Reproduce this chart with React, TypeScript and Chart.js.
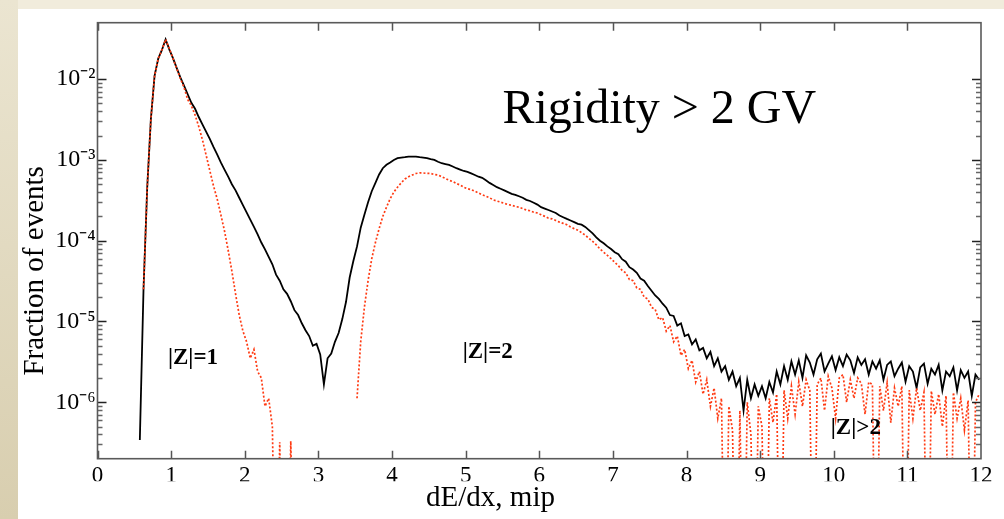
import { useEffect, useRef } from 'react';
import { Chart, registerables } from 'chart.js';

Chart.register(...registerables);

// Histogram bins: centre of first bin and bin width (dE/dx, mip)
const BIN_START = 0.575;
const BIN_WIDTH = 0.05;
const ZERO = 1e-9; // empty bin (falls below the log axis)

// Black curve: all events, one row per unit of dE/dx (20 bins per row)
const allEvents: (number | null)[] = [
  3.4e-7, 2.5e-5, 4.5e-4, 3.2e-3, 1.1e-2, 1.8e-2, 2.3e-2, 3.1e-2, 2.34e-2, 1.82e-2, 1.38e-2, 1.05e-2, 8.3e-3, 6.5e-3, 5.1e-3, 4.3e-3, 3.4e-3, 2.75e-3, 2.24e-3, 1.82e-3,
  1.45e-3, 1.17e-3, 9.3e-4, 7.6e-4, 6.2e-4, 5.0e-4, 4.2e-4, 3.4e-4, 2.75e-4, 2.24e-4, 1.82e-4, 1.48e-4, 1.2e-4, 9.5e-5, 7.8e-5, 6.3e-5, 5.1e-5, 3.8e-5, 3.2e-5, 2.5e-5,
  2.2e-5, 1.78e-5, 1.38e-5, 1.2e-5, 9.5e-6, 7.8e-6, 6.6e-6, 5.0e-6, 5.3e-6, 3.9e-6, 1.66e-6, 3.5e-6, 4.0e-6, 5.6e-6, 7.2e-6, 1.07e-5, 1.74e-5, 3.5e-5, 5.6e-5, 8.5e-5,
  1.45e-4, 2.1e-4, 3.0e-4, 4.1e-4, 5.2e-4, 6.6e-4, 7.9e-4, 8.7e-4, 9.3e-4, 1.0e-3, 1.05e-3, 1.07e-3, 1.08e-3, 1.1e-3, 1.1e-3, 1.1e-3, 1.08e-3, 1.07e-3, 1.05e-3, 1.02e-3,
  1.0e-3, 9.5e-4, 9.1e-4, 8.9e-4, 8.7e-4, 8.3e-4, 7.9e-4, 7.6e-4, 7.3e-4, 7.1e-4, 6.8e-4, 6.5e-4, 6.2e-4, 6.0e-4, 5.6e-4, 5.2e-4, 4.9e-4, 4.6e-4, 4.4e-4, 4.2e-4,
  4.0e-4, 3.8e-4, 3.7e-4, 3.55e-4, 3.4e-4, 3.2e-4, 3.1e-4, 2.95e-4, 2.8e-4, 2.6e-4, 2.5e-4, 2.4e-4, 2.3e-4, 2.2e-4, 2.05e-4, 1.95e-4, 1.86e-4, 1.78e-4, 1.7e-4, 1.62e-4,
  1.58e-4, 1.48e-4, 1.35e-4, 1.23e-4, 1.1e-4, 1.0e-4, 9.3e-5, 8.5e-5, 7.9e-5, 7.2e-5, 6.8e-5, 5.9e-5, 5.5e-5, 4.7e-5, 4.4e-5, 4.0e-5, 3.4e-5, 3.2e-5, 2.75e-5, 2.4e-5,
  2.1e-5, 1.9e-5, 1.66e-5, 1.48e-5, 1.2e-5, 1.17e-5, 8.9e-6, 9.5e-6, 6.6e-6, 6.9e-6, 5.2e-6, 6.0e-6, 4.4e-6, 4.7e-6, 3.5e-6, 4.2e-6, 2.8e-6, 3.5e-6, 2.4e-6, 2.8e-6,
  1.9e-6, 2.4e-6, 1.58e-6, 2.0e-6, 7.9e-7, 1.9e-6, 1.12e-6, 1.66e-6, 1.2e-6, 1.58e-6, 1.12e-6, 1.78e-6, 1.32e-6, 2.4e-6, 1.66e-6, 2.8e-6, 1.9e-6, 3.2e-6, 2.2e-6, 3.3e-6,
  2.0e-6, 3.8e-6, 3.1e-6, 2.2e-6, 3.4e-6, 4.0e-6, 2.4e-6, 3.0e-6, 3.7e-6, 2.5e-6, 3.6e-6, 2.8e-6, 3.9e-6, 3.3e-6, 2.3e-6, 3.6e-6, 2.9e-6, 3.4e-6, 2.2e-6, 3.2e-6,
  2.6e-6, 3.3e-6, 1.9e-6, 2.9e-6, 3.2e-6, 2.1e-6, 2.6e-6, 3.1e-6, 1.8e-6, 2.8e-6, 2.4e-6, 1.5e-6, 2.7e-6, 3.0e-6, 1.7e-6, 2.6e-6, 2.2e-6, 2.9e-6, 1.4e-6, 2.4e-6,
  2.1e-6, 2.7e-6, 1.4e-6, 2.5e-6, 2.0e-6, 2.4e-6, 1.2e-6, 2.2e-6, 1.9e-6,
];

// Red dotted curve: selected events
const selectedEvents: (number | null)[] = [
  null, 2.5e-5, 4.5e-4, 3.2e-3, 1.1e-2, 1.8e-2, 2.3e-2, 3.1e-2, 2.4e-2, 1.8e-2, 1.36e-2, 1.02e-2, 7.9e-3, 5.6e-3, 4.7e-3, 3.6e-3, 2.6e-3, 1.78e-3, 1.15e-3, 7.4e-4,
  4.8e-4, 3.3e-4, 2.1e-4, 1.32e-4, 7.6e-5, 4.2e-5, 2.2e-5, 1.2e-5, 7.6e-6, 5.6e-6, 3.5e-6, 4.5e-6, 2.4e-6, 2.0e-6, 8.9e-7, 1.12e-6, 5.0e-7, ZERO, 3.2e-7, ZERO,
  ZERO, 3.3e-7, ZERO, null, null, null, null, null, null, null, null, null, null, null, null, null, null, null, null, 1.12e-6,
  5.6e-6, 1.5e-5, 3.2e-5, 6.0e-5, 9.5e-5, 1.41e-4, 2.0e-4, 2.6e-4, 3.3e-4, 4.0e-4, 4.6e-4, 5.2e-4, 5.8e-4, 6.2e-4, 6.5e-4, 6.8e-4, 6.9e-4, 6.9e-4, 6.8e-4, 6.8e-4,
  6.6e-4, 6.5e-4, 6.2e-4, 5.9e-4, 5.6e-4, 5.4e-4, 5.1e-4, 4.9e-4, 4.6e-4, 4.4e-4, 4.3e-4, 4.1e-4, 3.9e-4, 3.7e-4, 3.55e-4, 3.4e-4, 3.2e-4, 3.1e-4, 3.0e-4, 2.9e-4,
  2.8e-4, 2.75e-4, 2.65e-4, 2.6e-4, 2.5e-4, 2.4e-4, 2.35e-4, 2.25e-4, 2.2e-4, 2.1e-4, 2.0e-4, 1.9e-4, 1.86e-4, 1.78e-4, 1.7e-4, 1.64e-4, 1.58e-4, 1.48e-4, 1.41e-4, 1.35e-4,
  1.26e-4, 1.17e-4, 1.07e-4, 9.8e-5, 8.9e-5, 7.9e-5, 7.2e-5, 6.6e-5, 6.0e-5, 5.4e-5, 4.9e-5, 4.3e-5, 4.0e-5, 3.3e-5, 3.2e-5, 2.6e-5, 2.5e-5, 2.0e-5, 1.9e-5, 1.5e-5,
  1.41e-5, 1.05e-5, 1.12e-5, 7.6e-6, 8.9e-6, 5.6e-6, 6.6e-6, 3.8e-6, 4.5e-6, 2.6e-6, 3.3e-6, 1.78e-6, 2.4e-6, 1.26e-6, 1.9e-6, 8.9e-7, 1.5e-6, 6.3e-7, 1.12e-6, ZERO,
  8.9e-7, 4.5e-7, ZERO, 7.9e-7, ZERO, 1.0e-6, 4.0e-7, ZERO, 8.9e-7, 5.0e-7, ZERO, 1.12e-6, 5.6e-7, 1.26e-6, ZERO, 1.41e-6, 6.3e-7, 1.58e-6, 7.1e-7, 1.78e-6,
  8.9e-7, 1.9e-6, 1.4e-6, ZERO, 1.66e-6, 2.0e-6, 7.9e-7, 2.1e-6, 1.5e-6, 6.3e-7, 2.0e-6, 2.2e-6, 1.0e-6, 1.9e-6, 1.12e-6, 2.0e-6, 1.7e-6, 7.1e-7, 1.78e-6, 1.66e-6,
  ZERO, 1.58e-6, 7.9e-7, 1.74e-6, 5.6e-7, 1.5e-6, 8.9e-7, 1.58e-6, ZERO, 1.41e-6, 6.3e-7, 1.5e-6, 7.9e-7, 1.32e-6, ZERO, 1.38e-6, 7.1e-7, 1.26e-6, 5.0e-7, 1.2e-6,
  ZERO, 1.32e-6, 6.3e-7, 1.12e-6, 4.5e-7, 1.05e-6, ZERO, 1.0e-6, 1.26e-6,
];

const X_MIN = 0;
const X_MAX = 12;
const Y_MIN = 2e-7;
const Y_MAX = 5e-2;
const Y_MAJOR_VALUES = [1e-6, 1e-5, 1e-4, 1e-3, 1e-2];
const Y_TICK_LABELS = ['10⁻⁶', '10⁻⁵', '10⁻⁴', '10⁻³', '10⁻²'];
const Y_DECADES = [-7, -6, -5, -4, -3];
const MANTISSAS = [1, 2, 3, 4, 5, 6, 7, 8, 9];

const NOTES = [
  { text: 'Rigidity > 2 GV', x: 5.5, y: 2.85e-3, font: 'normal 48px "Liberation Serif", serif' },
  { text: '|Z|=1', x: 0.957, y: 3.0e-6, font: 'bold 23px "Liberation Serif", serif' },
  { text: '|Z|=2', x: 4.96, y: 3.5e-6, font: 'bold 23px "Liberation Serif", serif' },
  { text: '|Z|>2', x: 9.96, y: 4.0e-7, font: 'bold 23px "Liberation Serif", serif' },
];

const SERIF = '"Liberation Serif", "Times New Roman", serif';

const toPoints = (ys: (number | null)[]) =>
  ys.map((y, i) => ({ x: BIN_START + i * BIN_WIDTH, y }));

const isMajor = (v: number) => Y_MAJOR_VALUES.some((m) => Math.abs(v / m - 1) < 1e-6);

const framePlugin = {
  id: 'frameTicks',
  afterDraw(chart: any) {
    const { ctx, chartArea } = chart;
    const { left, right, top, bottom } = chartArea;
    const xs = chart.scales.x;
    const ys = chart.scales.y;
    ctx.save();
    ys.ticks.forEach((t: any) => {
      const py = Math.round(ys.getPixelForValue(t.value)) + 0.5;
      if (py < top + 1 || py > bottom - 1) return;
      const major = isMajor(t.value);
      const len = major ? 9 : 5;
      ctx.strokeStyle = major ? '#222' : '#666';
      ctx.lineWidth = major ? 1.6 : 1.3;
      ctx.beginPath();
      ctx.moveTo(left, py);
      ctx.lineTo(left + len, py);
      ctx.moveTo(right, py);
      ctx.lineTo(right - len, py);
      ctx.stroke();
    });
    xs.ticks.forEach((t: any) => {
      const px = Math.round(xs.getPixelForValue(t.value)) + 0.5;
      if (px < left + 1 || px > right - 1) return;
      ctx.strokeStyle = '#555';
      ctx.lineWidth = 1.5;
      ctx.beginPath();
      ctx.moveTo(px, bottom);
      ctx.lineTo(px, bottom - 8);
      ctx.moveTo(px, top);
      ctx.lineTo(px, top + 8);
      ctx.stroke();
    });
    ctx.strokeStyle = '#5a5a5a';
    ctx.lineWidth = 1.6;
    ctx.strokeRect(left, top, right - left, bottom - top);
    ctx.restore();
  },
};

const notesPlugin = {
  id: 'notes',
  afterDatasetsDraw(chart: any) {
    const { ctx } = chart;
    const xs = chart.scales.x;
    const ys = chart.scales.y;
    ctx.save();
    ctx.fillStyle = '#000';
    ctx.textAlign = 'left';
    ctx.textBaseline = 'alphabetic';
    NOTES.forEach((n) => {
      ctx.font = n.font;
      ctx.fillText(n.text, xs.getPixelForValue(n.x), ys.getPixelForValue(n.y));
    });
    ctx.restore();
  },
};

export default function App() {
  const ref = useRef<HTMLCanvasElement | null>(null);

  useEffect(() => {
    if (!ref.current) return;
    const chart = new Chart(ref.current, {
      type: 'line',
      data: {
        datasets: [
          {
            label: 'Selected events',
            data: toPoints(selectedEvents),
            borderColor: '#ff3a12',
            borderWidth: 1.7,
            borderDash: [2, 2],
            pointRadius: 0,
            tension: 0,
            spanGaps: false,
          },
          {
            label: 'All events',
            data: toPoints(allEvents),
            borderColor: '#000000',
            borderWidth: 1.8,
            pointRadius: 0,
            tension: 0,
            spanGaps: false,
          },
        ],
      },
      options: {
        animation: false,
        responsive: false,
        devicePixelRatio: 1,
        events: [],
        layout: { padding: { top: 22.7, right: 17, left: 0, bottom: 0 } },
        plugins: {
          legend: { display: false },
          tooltip: { enabled: false },
          title: {
            display: true,
            position: 'bottom',
            text: 'dE/dx, mip',
            color: '#000',
            font: { family: SERIF, size: 29, weight: 'normal' },
            padding: { top: 0, bottom: 2.9 },
          },
          subtitle: {
            display: true,
            position: 'left',
            text: 'Fraction of events',
            color: '#000',
            font: { family: SERIF, size: 29, weight: 'normal' },
            padding: { top: 17.8, bottom: 0 },
          },
        },
        scales: {
          x: {
            type: 'linear',
            min: X_MIN,
            max: X_MAX,
            grid: { display: false, drawTicks: false },
            border: { display: false },
            ticks: {
              stepSize: 1,
              autoSkip: false,
              maxRotation: 0,
              padding: 3,
              color: '#000',
              font: { family: SERIF, size: 23 },
            },
            afterFit: (s: any) => {
              s.height = 22.6;
            },
          },
          y: {
            type: 'logarithmic',
            min: Y_MIN,
            max: Y_MAX,
            grid: { display: false, drawTicks: false },
            border: { display: false },
            afterBuildTicks: (s: any) => {
              const vals: number[] = [];
              Y_DECADES.forEach((e) =>
                MANTISSAS.forEach((m) => {
                  const v = m * Math.pow(10, e);
                  if (v >= Y_MIN * 0.999) vals.push(v);
                })
              );
              vals.push(1e-2);
              s.ticks = vals.map((v) => ({ value: v, major: isMajor(v) }));
            },
            ticks: {
              autoSkip: false,
              padding: 2,
              color: '#000',
              font: { family: SERIF, size: 24 },
              callback: (value: any) => {
                const i = Y_MAJOR_VALUES.findIndex((m) => Math.abs(Number(value) / m - 1) < 1e-6);
                return i >= 0 ? Y_TICK_LABELS[i] : '';
              },
            },
            afterFit: (s: any) => {
              s.width = 97.5 - 52.6;
            },
          },
        },
      },
      plugins: [notesPlugin, framePlugin],
    } as any);
    return () => chart.destroy();
  }, []);

  return (
    <div
      style={{
        position: 'fixed',
        left: 0,
        top: 0,
        width: 1004,
        height: 519,
        background: '#f1ecdc',
        overflow: 'hidden',
      }}
    >
      <div
        style={{
          position: 'absolute',
          left: 0,
          top: 0,
          width: 18,
          height: 519,
          background: 'linear-gradient(#ebe5d1, #d8ceaf)',
        }}
      />
      <div
        style={{
          position: 'absolute',
          left: 18,
          top: 9,
          right: 0,
          bottom: 0,
          background: '#ffffff',
        }}
      />
      <canvas
        ref={ref}
        width={998}
        height={519}
        style={{ position: 'absolute', left: 0, top: 0, width: 998, height: 519 }}
      />
    </div>
  );
}
